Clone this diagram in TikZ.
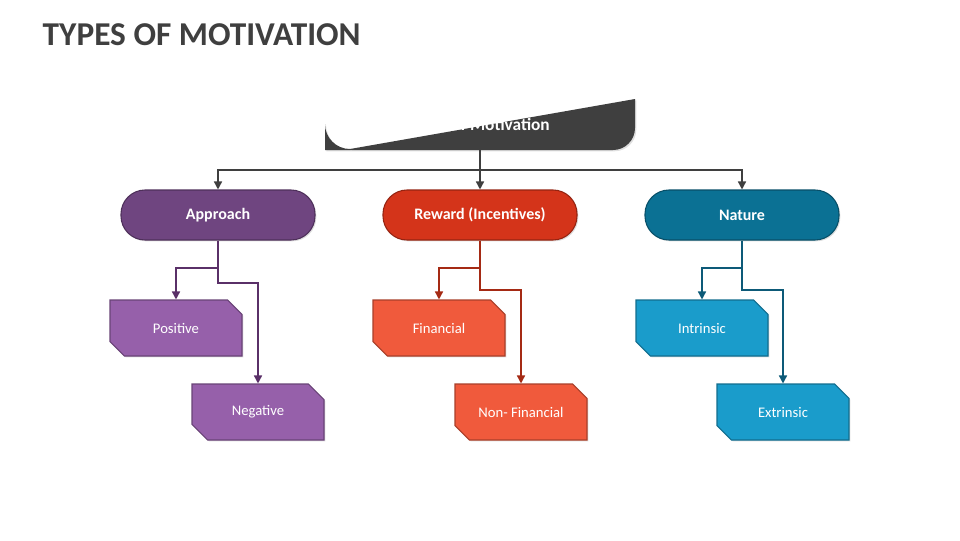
\documentclass[tikz,border=0pt]{standalone}
\usepackage{fontspec}
\setmainfont{Carlito}
\usetikzlibrary{shapes.misc,shadows,arrows.meta}
\definecolor{ttl}{HTML}{3F3F3F}
\definecolor{pA}{HTML}{6F4580}\definecolor{cA}{HTML}{9660AA}\definecolor{lA}{HTML}{5A3068}
\definecolor{pB}{HTML}{D4341A}\definecolor{cB}{HTML}{F05A3C}\definecolor{lB}{HTML}{A52A14}
\definecolor{pC}{HTML}{0B7194}\definecolor{cC}{HTML}{1A9CCB}\definecolor{lC}{HTML}{0D5A78}
\tikzset{
 pill/.style={rounded corners=18pt,minimum width=145.5pt,minimum height=37.5pt,draw=#1!70!black,line width=0.8pt,fill=#1,text=white,font=\bfseries\fontsize{12}{14}\selectfont,drop shadow={opacity=0.25,shadow xshift=1pt,shadow yshift=-1pt}},
 leaf/.style={chamfered rectangle,chamfered rectangle corners={north east,south west},chamfered rectangle xsep=7pt,chamfered rectangle ysep=7pt,minimum width=99pt,minimum height=42pt,inner sep=0pt,draw=#1!70!black,line width=0.8pt,fill=#1,text=white,font=\fontsize{11}{13}\selectfont,drop shadow={opacity=0.25,shadow xshift=1pt,shadow yshift=-1pt}},
 conn/.style={draw=#1,line width=1.1pt,-{Triangle[length=6pt,width=6pt]}},
}
\begin{document}
\begin{tikzpicture}[x=0.75pt,y=-0.75pt]
\useasboundingbox (0,0) rectangle (960,540);
\node[anchor=west,text=ttl,font=\bfseries\fontsize{25}{30}\selectfont] (title) at (38,35) {TYPES OF MOTIVATION};
\fill[ttl,drop shadow={opacity=0.25,shadow xshift=1pt,shadow yshift=-1pt}] (325,150) -- (325,124) arc[start angle=180,end angle=90,radius=25] -- (635,99) -- (635,128) arc[start angle=0,end angle=90,radius=22] -- cycle;
\node[text=white,font=\bfseries\fontsize{13}{15}\selectfont] (top) at (478,126) {Types of Motivation};
\coordinate (topb) at (480,150);
\node[pill=pA] (A) at (218,215) {Approach};
\node[pill=pB] (B) at (480,215) {Reward (Incentives)};
\node[pill=pC] (C) at (742,215) {Nature};
\node[leaf=cA] (A1) at (176,328) {Positive};
\node[leaf=cA] (A2) at (258,412) {Negative};
\node[leaf=cB] (B1) at (439,328) {Financial};
\node[leaf=cB] (B2) at (521,412) {Non- Financial};
\node[leaf=cC] (C1) at (702,328) {Intrinsic};
\node[leaf=cC] (C2) at (783,412) {Extrinsic};
\draw[conn=ttl] (topb) -- (B.north);
\draw[conn=ttl] (topb) |- (218,170) -- (A.north);
\draw[conn=ttl] (topb) |- (742,170) -- (C.north);
\draw[conn=lA] (A.south) -- (218,268) -| (A1.north);
\draw[conn=lA] (A.south) -- (218,283) -| (A2.north);
\draw[conn=lB] (B.south) -- (480,268) -| (B1.north);
\draw[conn=lB] (B.south) -- (480,290) -| (B2.north);
\draw[conn=lC] (C.south) -- (742,268) -| (C1.north);
\draw[conn=lC] (C.south) -- (742,290) -| (C2.north);
\end{tikzpicture}
\end{document}
